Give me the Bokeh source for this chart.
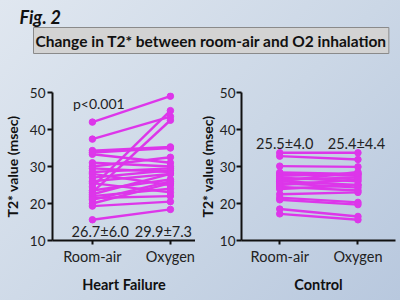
from bokeh.plotting import figure
from bokeh.layouts import column, row
from bokeh.models import Range1d, FixedTicker, Label
from bokeh.core.properties import value
from bokeh.embed import file_html
from bokeh.resources import INLINE

# ---------------- data ----------------
conditions = ["Room-air", "Oxygen"]
y_ticks = [10, 20, 30, 40, 50]

hf_room_air = [42.0, 37.4, 34.3, 33.8, 33.3, 31.0, 30.0, 29.5, 28.5, 28.0, 27.0, 26.0,
               25.5, 24.5, 23.5, 23.0, 22.5, 22.0, 21.5, 21.0, 20.0, 19.3, 15.6]
hf_oxygen = [49.0, 43.5, 35.3, 35.0, 31.0, 30.0, 32.5, 28.5, 29.5, 25.0, 29.0, 28.0,
             23.0, 45.1, 26.5, 42.5, 28.0, 24.0, 22.0, 26.0, 25.5, 20.5, 18.4]

ctrl_room_air = [33.7, 32.8, 30.1, 28.4, 28.0, 27.5, 27.0, 26.5, 26.0, 26.0, 25.5, 25.0,
                 24.5, 23.9, 22.5, 21.6, 21.0, 18.5, 17.2]
ctrl_oxygen = [33.7, 31.9, 29.9, 28.0, 27.5, 28.0, 26.0, 27.0, 25.0, 28.5, 24.3, 26.5,
               23.5, 25.0, 23.0, 20.3, 19.7, 16.5, 15.6]

hf_stats = ["26.7\u00b16.0", "29.9\u00b17.3"]
ctrl_stats = ["25.5\u00b14.0", "25.4\u00b14.4"]
p_value_text = "p<0.001"
fig_label = "Fig. 2"
title_text = "Change in T2* between room-air and O2 inhalation"
y_label = "T2* value (msec)"
group_labels = ["Heart Failure", "Control"]

FONT = "Lato"
MAG = "#dd36ea"
BLACK = "#111111"


def panel(width, mb_left, mb_right, mb_top, mb_bottom, x_start, x_end, ra, ox,
          group, axis_label_standoff, tick_label_standoff):
    p = figure(width=width, height=238, x_range=Range1d(x_start, x_end),
               y_range=Range1d(10, 50), output_backend="svg", toolbar_location=None,
               min_border_left=mb_left, min_border_right=mb_right,
               min_border_top=mb_top, min_border_bottom=mb_bottom)
    p.background_fill_alpha = 0
    p.border_fill_alpha = 0
    p.outline_line_color = None
    p.grid.visible = False

    xs = [[0, 1] for _ in ra]
    ys = [[a, b] for a, b in zip(ra, ox)]
    p.multi_line(xs=xs, ys=ys, line_color=MAG, line_width=2.4)
    p.scatter(x=[0] * len(ra), y=ra, size=6.5, color=MAG)
    p.scatter(x=[1] * len(ox), y=ox, size=6.5, color=MAG)

    xa = p.xaxis[0]
    xa.ticker = FixedTicker(ticks=[0, 1])
    xa.major_label_overrides = {0: conditions[0], 1: conditions[1]}
    xa.minor_tick_line_color = None
    xa.major_tick_out = 4
    xa.major_tick_in = 0
    xa.axis_line_width = 2
    xa.major_tick_line_width = 2
    xa.axis_line_color = BLACK
    xa.major_tick_line_color = BLACK
    xa.major_label_text_font = FONT
    xa.major_label_text_font_size = "14.5px"
    xa.major_label_text_color = "#222222"
    xa.major_label_standoff = 3
    xa.axis_label = group
    xa.axis_label_text_font = FONT
    xa.axis_label_text_font_size = "14.5px"
    xa.axis_label_text_font_style = "bold"
    xa.axis_label_text_color = BLACK
    xa.axis_label_standoff = 8

    ya = p.yaxis[0]
    ya.ticker = FixedTicker(ticks=y_ticks)
    ya.minor_tick_line_color = None
    ya.major_tick_out = 5
    ya.major_tick_in = 0
    ya.axis_line_width = 2
    ya.major_tick_line_width = 2
    ya.axis_line_color = BLACK
    ya.major_tick_line_color = BLACK
    ya.major_label_text_font = FONT
    ya.major_label_text_font_size = "13.5px"
    ya.major_label_text_color = "#222222"
    ya.major_label_standoff = tick_label_standoff
    ya.axis_label = y_label
    ya.axis_label_text_font = FONT
    ya.axis_label_text_font_size = "14px"
    ya.axis_label_text_font_style = "bold"
    ya.axis_label_text_color = BLACK
    ya.axis_label_standoff = axis_label_standoff
    return p


# ---------------- top strip: figure number and boxed title ----------------
top = figure(width=400, height=62, x_range=Range1d(0, 400), y_range=Range1d(62, 0),
             output_backend="svg", toolbar_location=None,
             min_border_left=0, min_border_right=0, min_border_top=0, min_border_bottom=0)
top.axis.visible = False
top.grid.visible = False
top.outline_line_color = None
top.background_fill_alpha = 0
top.border_fill_alpha = 0
top.add_layout(Label(x=19, y=16, text=fig_label, text_font=FONT, text_font_size="18px",
                     text_font_style="bold italic", text_color=BLACK,
                     text_baseline="middle"))
top.add_layout(Label(x=33, y=40, text=title_text, text_font=FONT, text_font_size="15.5px",
                     text_font_style="bold", text_color=BLACK, text_baseline="middle",
                     background_fill_color="#d3d3d3", border_line_color="#8a8a8a",
                     border_line_width=1, padding=(2, 4)))

# ---------------- left panel: heart failure ----------------
left = panel(195, 47, 0, 30, 57, -0.512, 1.322, hf_room_air, hf_oxygen,
             group_labels[0], 6, 2)
left.text(x=[-0.25], y=[46.9], text=[p_value_text], text_font=value(FONT),
          text_font_size="14px", text_color="#222222", text_baseline="middle",
          text_align="left")
left.text(x=[0.1, 0.91], y=[12.3, 12.3], text=hf_stats, text_font=value(FONT),
          text_font_size="14.5px", text_color="#222222", text_baseline="middle",
          text_align="center")

# ---------------- right panel: control ----------------
right = panel(205, 36, 5, 29, 60, -0.489, 1.48, ctrl_room_air, ctrl_oxygen,
              group_labels[1], 1, 1)
right.text(x=[0.064, 0.98], y=[36.2, 36.2], text=ctrl_stats, text_font=value(FONT),
           text_font_size="14.5px", text_color="#222222", text_baseline="middle",
           text_align="center")

layout = column(top, row(left, right, spacing=0), spacing=0, width=400, height=300,
                styles={"background": "linear-gradient(135deg, #e0e7f0 0%, #cbd7e6 55%, #b8c8de 100%)"})

open("out.html", "w").write(file_html(layout, INLINE))
